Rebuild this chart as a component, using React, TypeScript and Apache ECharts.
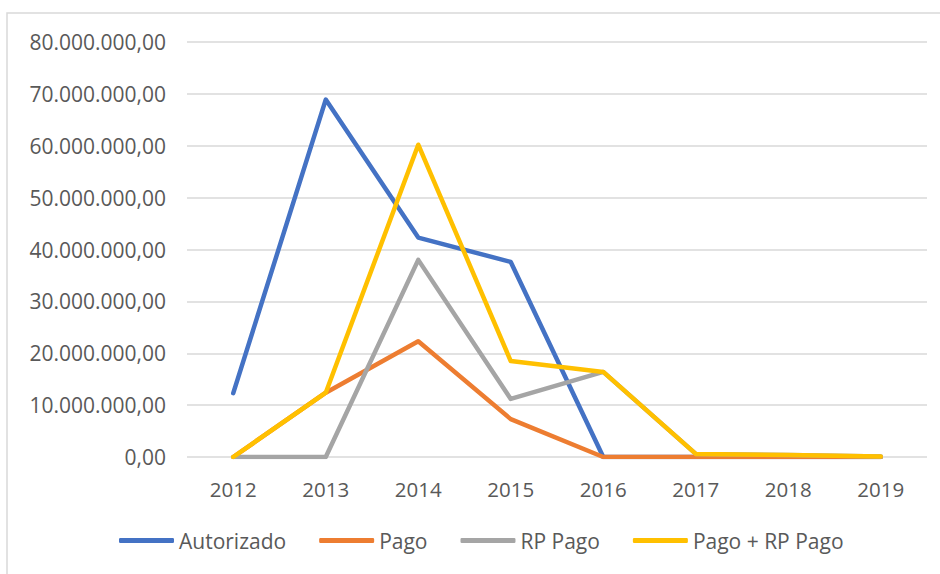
import React, { useEffect, useRef } from "react";
import * as echarts from "echarts";

const categories = ["2012", "2013", "2014", "2015", "2016", "2017", "2018", "2019"];
const autorizado = [12300000, 68900000, 42300000, 37600000, 0, 0, 0, 0];
const pago = [0, 12400000, 22300000, 7300000, 0, 0, 0, 0];
const rpPago = [0, 0, 38000000, 11200000, 16400000, 600000, 400000, 100000];
const pagoMaisRp = [0, 12400000, 60200000, 18500000, 16400000, 600000, 400000, 100000];

const seriesNames = ["Autorizado", "Pago", "RP Pago", "Pago + RP Pago"];
const seriesColors = ["#4472C4", "#ED7D31", "#A5A5A5", "#FFC000"];

const FONT = "'Open Sans', sans-serif";

function fmtBR(v: number): string {
  const int = Math.round(v).toString().replace(/\B(?=(\d{3})+(?!\d))/g, ".");
  return int + ",00";
}

export default function App() {
  const ref = useRef<HTMLDivElement>(null);
  useEffect(() => {
    document.body.style.margin = "0";
    if (!ref.current) return;
    const chart = echarts.init(ref.current, null, { renderer: "svg" });
    const data = [autorizado, pago, rpPago, pagoMaisRp];
    chart.setOption({
      animation: false,
      backgroundColor: "#ffffff",
      graphic: [
        {
          type: "rect",
          shape: { x: 7, y: 13, width: 960, height: 600 },
          style: { fill: "none", stroke: "#d9d9d9", lineWidth: 1.5 },
          silent: true,
        },
      ],
      grid: { left: 187, right: 13, top: 42, bottom: 117, containLabel: false },
      xAxis: {
        type: "category",
        data: categories,
        boundaryGap: true,
        axisLine: { show: false },
        axisTick: { show: false },
        axisLabel: { color: "#595959", fontSize: 20.5, fontFamily: FONT, margin: 21 },
      },
      yAxis: {
        type: "value",
        min: 0,
        max: 80000000,
        interval: 10000000,
        axisLine: { show: false },
        axisTick: { show: false },
        splitLine: { lineStyle: { color: "#d9d9d9", width: 1.5 } },
        axisLabel: {
          color: "#595959",
          fontSize: 21,
          fontFamily: FONT,
          margin: 21,
          formatter: (v: number) => fmtBR(v),
        },
      },
      legend: {
        bottom: 18,
        left: 114,
        itemWidth: 55,
        itemHeight: 5,
        itemGap: 33,
        icon: "roundRect",
        textStyle: { color: "#595959", fontSize: 21, fontFamily: FONT },
        data: seriesNames,
      },
      series: seriesNames.map((name, i) => ({
        name,
        type: "line",
        data: data[i],
        showSymbol: false,
        symbol: "none",
        color: seriesColors[i],
        lineStyle: { color: seriesColors[i], width: 4.5, cap: "round", join: "round" },
      })),
    });
    return () => chart.dispose();
  }, []);
  return <div ref={ref} style={{ width: 940, height: 574 }} />;
}
